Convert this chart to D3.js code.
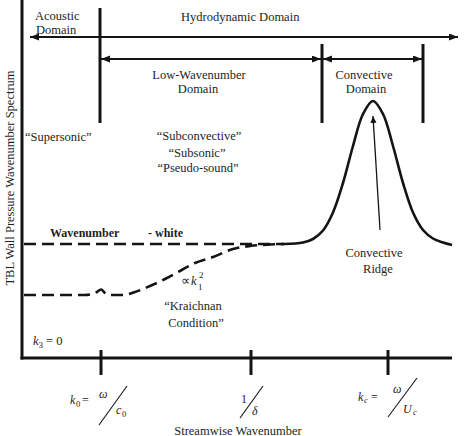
<!DOCTYPE html>
<html><head><meta charset="utf-8">
<script src="https://cdn.jsdelivr.net/npm/d3@7"></script>
<style>
body{margin:0;background:#fff}
text{font-family:"Liberation Serif","Times New Roman",serif;fill:#1e1e1e;font-size:12.5px}
</style>
</head><body>
<svg id="c" width="468" height="436"></svg>
<script>
// ---- data (abstract wavenumber units on x, spectrum level units on y) ----
const tickValues = [15.8, 45.8, 73.2];            // k0, 1/delta, kc
const boundaryX = [15.6, 60.0, 80.2];             // domain boundary lines
const boundaryTop = [70.0, 62.8, 62.8];
const boundaryBottom = 47.0;
const hydroArrow = [1.6, 87.2];                   // Hydrodynamic domain extent
const hydroLevel = 64.2;
const lowArrow = [15.8, 59.8];                    // Low-wavenumber domain extent
const convArrow = [60.2, 80.0];                   // Convective domain extent
const domainArrowLevel = 59.8;
const whiteX = [0, 52.4];                         // wavenumber-white level
const whiteLevel = 22.8;
const kraichnanX = [0, 12.6, 15.0, 15.8, 16.6, 17.6, 20.0, 22.6, 25.6, 28.6, 31.6, 34.6, 38.2, 42.2, 45.6, 49.6, 52.4];
const kraichnanY = [12.6, 12.6, 13.2, 13.7, 13.0, 12.6, 12.6, 13.2, 14.4, 15.8, 17.4, 19.0, 20.2, 21.8, 22.4, 22.7, 22.8];
const ridgeX = [52.4, 56.2, 58.2, 60.2, 62.2, 64.2, 66.2, 68.2, 70.2, 72.2, 74.2, 76.2, 78.2, 80.2, 82.2, 84.2, 86.0];
const ridgeY = [22.8, 23.1, 23.8, 25.5, 29.1, 35.0, 42.4, 48.8, 51.4, 48.8, 42.4, 35.0, 29.1, 25.6, 23.9, 23.1, 22.6];
const ridgePointer = [[71.6, 25.6], [70.2, 48.4]];
const tickSpan = [1.6, -3.4];

// ---- scales ----
const x = d3.scaleLinear().domain([0, 86]).range([22, 452]);
const y = d3.scaleLinear().domain([0, 71.6]).range([358, 0]);

const svg = d3.select("#c");
const ink = "#141414";

// markers
const defs = svg.append("defs");
defs.append("marker").attr("id", "ah").attr("markerUnits", "userSpaceOnUse")
  .attr("markerWidth", 10).attr("markerHeight", 8).attr("refX", 9).attr("refY", 3.5)
  .attr("orient", "auto-start-reverse")
  .append("path").attr("d", "M0,0 L9,3.5 L0,7 Z").attr("fill", ink);
defs.append("marker").attr("id", "ah2").attr("markerUnits", "userSpaceOnUse")
  .attr("markerWidth", 8).attr("markerHeight", 8).attr("refX", 7).attr("refY", 3)
  .attr("orient", "auto")
  .append("path").attr("d", "M0,0 L7,3 L0,6 Z").attr("fill", ink);

// axes
svg.append("line").attr("x1", x(0)).attr("x2", x(0)).attr("y1", y(71.6)).attr("y2", y(0) + 1.5)
  .attr("stroke", ink).attr("stroke-width", 3);
svg.append("line").attr("x1", x(0) - 1.5).attr("x2", x(86)).attr("y1", y(0)).attr("y2", y(0))
  .attr("stroke", ink).attr("stroke-width", 3);
svg.selectAll(".tick").data(tickValues).join("line")
  .attr("x1", d => x(d)).attr("x2", d => x(d))
  .attr("y1", y(tickSpan[0])).attr("y2", y(tickSpan[1]))
  .attr("stroke", ink).attr("stroke-width", 3);

// domain boundaries
svg.selectAll(".bnd").data(boundaryX).join("line")
  .attr("x1", d => x(d)).attr("x2", d => x(d))
  .attr("y1", (d, i) => y(boundaryTop[i])).attr("y2", y(boundaryBottom))
  .attr("stroke", ink).attr("stroke-width", 3);

// arrows
function arrow(a, lvl) {
  svg.append("line").attr("x1", x(a[0])).attr("x2", x(a[1])).attr("y1", y(lvl)).attr("y2", y(lvl))
    .attr("stroke", ink).attr("stroke-width", 2)
    .attr("marker-start", "url(#ah)").attr("marker-end", "url(#ah)");
}
arrow(hydroArrow, hydroLevel);
arrow(lowArrow, domainArrowLevel);
arrow(convArrow, domainArrowLevel);

// white level dashed
svg.append("line").attr("x1", x(whiteX[0]) + 2).attr("x2", x(whiteX[1])).attr("y1", y(whiteLevel)).attr("y2", y(whiteLevel))
  .attr("stroke", ink).attr("stroke-width", 2.6).attr("stroke-dasharray", "12,6");

// Kraichnan dashed curve
const kr = kraichnanX.map((d, i) => [d, kraichnanY[i]]);
svg.append("path").datum(kr)
  .attr("d", d3.line().x(d => x(d[0])).y(d => y(d[1])).curve(d3.curveMonotoneX))
  .attr("fill", "none").attr("stroke", ink).attr("stroke-width", 2.6)
  .attr("stroke-dasharray", "12,6").attr("stroke-dashoffset", -2);

// convective ridge
const rd = ridgeX.map((d, i) => [d, ridgeY[i]]);
svg.append("path").datum(rd)
  .attr("d", d3.line().x(d => x(d[0])).y(d => y(d[1])).curve(d3.curveCatmullRom))
  .attr("fill", "none").attr("stroke", ink).attr("stroke-width", 2.6);

// pointer to ridge
svg.append("line").attr("x1", x(ridgePointer[0][0])).attr("y1", y(ridgePointer[0][1]))
  .attr("x2", x(ridgePointer[1][0])).attr("y2", y(ridgePointer[1][1]))
  .attr("stroke", ink).attr("stroke-width", 1.3).attr("marker-end", "url(#ah2)");

// ---- text ----
function t(str, px, py, anchor, extra) {
  const e = svg.append("text").attr("x", px).attr("y", py).attr("text-anchor", anchor || "start").text(str);
  if (extra) extra(e);
  return e;
}
t("Acoustic", 35, 20);
t("Domain", 36, 34);
t("Hydrodynamic Domain", 181, 21);
t("Low-Wavenumber", 199, 79, "middle");
t("Domain", 198, 93, "middle");
t("Convective", 364, 79, "middle");
t("Domain", 366, 93, "middle");
t("\u201cSupersonic\u201d", 25, 141);
t("\u201cSubconvective\u201d", 199, 140, "middle");
t("\u201cSubsonic\u201d", 197, 157, "middle");
t("\u201cPseudo-sound\u201d", 198, 172, "middle");
t("Wavenumber", 50, 237, "start", e => e.style("font-weight", "bold").style("font-size", "12px"));
t("- white", 148, 237, "start", e => e.style("font-weight", "bold").style("font-size", "12px"));
t("\u221d", 181, 285);
t("k", 191, 285, "start", e => e.style("font-style", "italic"));
t("1", 198, 290, "start", e => e.style("font-size", "9px"));
t("2", 199, 278, "start", e => e.style("font-size", "9px"));
t("\u201cKraichnan", 193, 310, "middle");
t("Condition\u201d", 196, 327, "middle");
t("k", 33, 345, "start", e => e.style("font-style", "italic"));
t("3", 38.5, 348, "start", e => e.style("font-size", "9px"));
t("= 0", 46, 345);
t("Convective", 374, 257, "middle");
t("Ridge", 378, 273, "middle");

// Y-axis title
svg.append("text").attr("transform", "translate(14,178) rotate(-90)").attr("text-anchor", "middle")
  .text("TBL Wall Pressure Wavenumber Spectrum");

// bottom tick labels
function slash(x1, y1, x2, y2) {
  svg.append("line").attr("x1", x1).attr("y1", y1).attr("x2", x2).attr("y2", y2)
    .attr("stroke", ink).attr("stroke-width", 1.1);
}
const fs = e => e.style("font-size", "12px");
const it = e => e.style("font-style", "italic").style("font-size", "12px");
const sub = e => e.style("font-size", "8.5px");
// k0 = omega / c0
t("k", 70, 404, "start", it);
t("0", 76, 407, "start", sub);
t("=", 82, 404, "start", fs);
t("\u03c9", 99, 398, "start", it);
slash(99, 425, 127, 386);
t("c", 116, 414, "start", it);
t("0", 122, 417, "start", sub);
// 1 / delta
t("1", 241, 403, "start", fs);
slash(240, 418, 263, 386);
t("\u03b4", 252, 415, "start", it);
// kc = omega / Uc
t("k", 358, 401, "start", it);
t("c", 364, 403, "start", e => e.style("font-size", "8.5px").style("font-style", "italic"));
t("=", 371, 401, "start", fs);
t("\u03c9", 393, 393, "start", it);
slash(388, 417, 417, 378);
t("U", 403, 413, "start", it);
t("c", 413, 415, "start", e => e.style("font-size", "8.5px").style("font-style", "italic"));

t("Streamwise Wavenumber", 238, 434.5, "middle");
</script>
</body></html>
